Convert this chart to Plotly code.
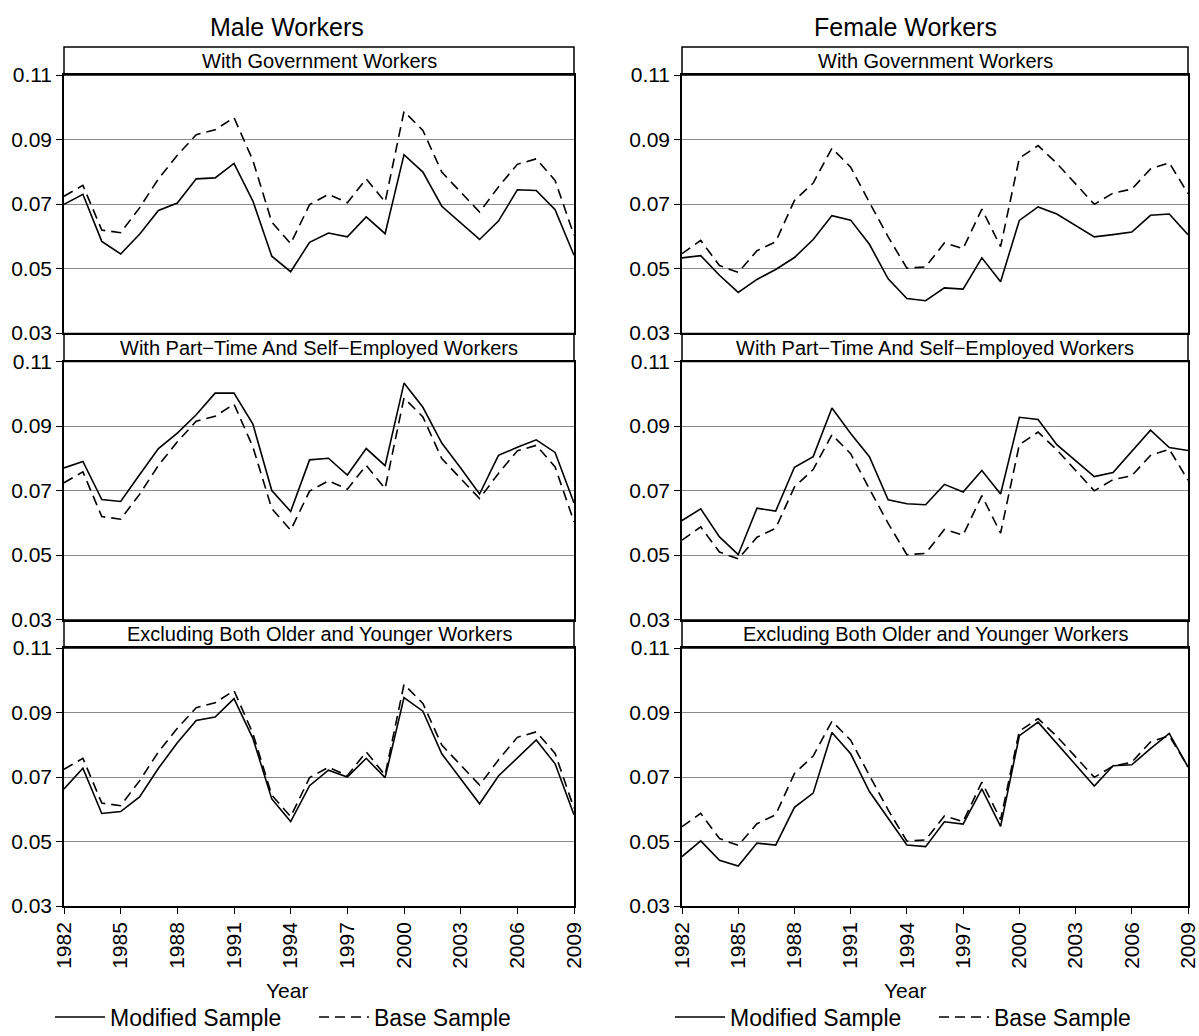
import plotly.graph_objects as go

# Survey years
years = list(range(1982, 2010))

# Base sample (same reference series in every panel of a column)
male_base = [0.0724, 0.0758, 0.0619, 0.0611, 0.0688, 0.0778, 0.0851, 0.0915, 0.0930, 0.0968,
             0.0835, 0.0644, 0.0577, 0.0698, 0.0730, 0.0704, 0.0778, 0.0706, 0.0987, 0.0928,
             0.0799, 0.0737, 0.0675, 0.0753, 0.0823, 0.0840, 0.0773, 0.0603]
female_base = [0.0546, 0.0587, 0.0509, 0.0488, 0.0555, 0.0583, 0.0711, 0.0765, 0.0873, 0.0814,
               0.0705, 0.0598, 0.0501, 0.0505, 0.0579, 0.0562, 0.0684, 0.0568, 0.0842, 0.0881,
               0.0826, 0.0763, 0.0699, 0.0734, 0.0746, 0.0809, 0.0828, 0.0732]

# Modified samples, male workers
male_gov = [0.0699, 0.0730, 0.0584, 0.0545, 0.0606, 0.0680, 0.0703, 0.0778, 0.0781, 0.0826,
            0.0709, 0.0538, 0.0490, 0.0581, 0.0610, 0.0598, 0.0660, 0.0608, 0.0853, 0.0799,
            0.0693, 0.0641, 0.0590, 0.0647, 0.0744, 0.0742, 0.0682, 0.0541]
male_pt = [0.0770, 0.0790, 0.0672, 0.0666, 0.0749, 0.0830, 0.0878, 0.0935, 0.1002, 0.1002,
           0.0906, 0.0700, 0.0635, 0.0795, 0.0800, 0.0748, 0.0830, 0.0777, 0.1033, 0.0958,
           0.0847, 0.0770, 0.0689, 0.0809, 0.0834, 0.0857, 0.0818, 0.0661]
male_ex = [0.0663, 0.0727, 0.0587, 0.0593, 0.0638, 0.0727, 0.0806, 0.0875, 0.0886, 0.0943,
           0.0820, 0.0632, 0.0562, 0.0673, 0.0721, 0.0700, 0.0758, 0.0698, 0.0946, 0.0904,
           0.0772, 0.0696, 0.0617, 0.0703, 0.0760, 0.0815, 0.0741, 0.0583]

# Modified samples, female workers
female_gov = [0.0533, 0.0540, 0.0479, 0.0426, 0.0466, 0.0497, 0.0534, 0.0590, 0.0664, 0.0650,
              0.0575, 0.0468, 0.0407, 0.0400, 0.0440, 0.0436, 0.0533, 0.0459, 0.0649, 0.0691,
              0.0669, 0.0634, 0.0598, 0.0605, 0.0613, 0.0665, 0.0669, 0.0605]
female_pt = [0.0607, 0.0643, 0.0556, 0.0501, 0.0645, 0.0636, 0.0772, 0.0805, 0.0956, 0.0877,
             0.0805, 0.0671, 0.0659, 0.0656, 0.0719, 0.0695, 0.0762, 0.0689, 0.0927, 0.0920,
             0.0842, 0.0792, 0.0743, 0.0756, 0.0821, 0.0887, 0.0833, 0.0824]
female_ex = [0.0453, 0.0502, 0.0442, 0.0424, 0.0495, 0.0489, 0.0606, 0.0650, 0.0838, 0.0772,
             0.0655, 0.0570, 0.0489, 0.0484, 0.0561, 0.0554, 0.0663, 0.0547, 0.0828, 0.0870,
             0.0805, 0.0738, 0.0672, 0.0735, 0.0738, 0.0788, 0.0835, 0.0731]

column_titles = ["Male Workers", "Female Workers"]
panel_titles = ["With Government Workers",
                "With Part\u2212Time And Self\u2212Employed Workers",
                "Excluding Both Older and Younger Workers"]
modified = [[male_gov, female_gov], [male_pt, female_pt], [male_ex, female_ex]]
base = [male_base, female_base]

y_ticks = [0.03, 0.05, 0.07, 0.09, 0.11]
y_tick_text = ["0.03", "0.05", "0.07", "0.09", "0.11"]
x_ticks = list(range(1982, 2010, 3))

W, H = 1199, 1036
FONT = "Liberation Sans, Arial, Helvetica, sans-serif"

# pixel layout of the panel grid
col_x = [(64, 574), (682, 1188)]
col_center = [287, 905]
legend_left = [50, 670]
row_top0, row_h, strip_h, row_step = 75, 258, 28, 286.5


def px_x(v):
    return v / W


def px_y(v):
    return 1 - v / H


fig = go.Figure()
layout = dict(
    width=W, height=H,
    margin=dict(l=0, r=0, t=0, b=0, autoexpand=False),
    paper_bgcolor="white", plot_bgcolor="white",
    font=dict(family=FONT, color="black"),
    showlegend=True,
)
shapes, annotations = [], []
legend_names = ["legend", "legend2"]

for r in range(3):
    top = row_top0 + r * row_step
    bottom = top + row_h
    for c in range(2):
        idx = r * 2 + c + 1
        sfx = "" if idx == 1 else str(idx)
        x0, x1 = col_x[c]
        fig.add_trace(go.Scatter(
            x=years, y=modified[r][c], mode="lines", name="Modified Sample",
            line=dict(color="black", width=1.6),
            xaxis="x" + sfx, yaxis="y" + sfx,
            showlegend=(r == 0), legend=legend_names[c], cliponaxis=True,
        ))
        fig.add_trace(go.Scatter(
            x=years, y=base[c], mode="lines", name="Base Sample",
            line=dict(color="black", width=1.6, dash="10px,6px"),
            xaxis="x" + sfx, yaxis="y" + sfx,
            showlegend=(r == 0), legend=legend_names[c], cliponaxis=True,
        ))
        bottom_row = (r == 2)
        layout["xaxis" + sfx] = dict(
            domain=[px_x(x0), px_x(x1)], anchor="y" + sfx,
            range=[1982, 2009], showgrid=False, zeroline=False,
            showline=True, mirror=True, linecolor="black", linewidth=1.5,
            tickmode="array", tickvals=x_ticks,
            ticktext=[str(v) for v in x_ticks],
            showticklabels=bottom_row, ticks="outside" if bottom_row else "",
            ticklen=6, tickwidth=1.2, tickcolor="black", tickangle=-90,
            tickfont=dict(size=21, family=FONT, color="black"),
            ticklabeloverflow="allow", automargin=False,
        )
        layout["yaxis" + sfx] = dict(
            domain=[px_y(bottom), px_y(top)], anchor="x" + sfx,
            range=[0.03, 0.11], zeroline=False,
            showgrid=True, gridcolor="#8a8a8a", gridwidth=1,
            showline=True, mirror=True, linecolor="black", linewidth=1.5,
            tickmode="array", tickvals=y_ticks, ticktext=y_tick_text,
            ticks="outside", ticklen=6, tickwidth=1.2, tickcolor="black",
            tickfont=dict(size=21, family=FONT, color="black"),
            ticklabeloverflow="allow", automargin=False,
        )
        # panel header strip
        shapes.append(dict(
            type="rect", xref="paper", yref="paper",
            x0=px_x(x0), x1=px_x(x1), y0=px_y(top), y1=px_y(top - strip_h),
            line=dict(color="black", width=1.5), fillcolor="white", layer="below",
        ))
        annotations.append(dict(
            text=panel_titles[r], xref="paper", yref="paper",
            x=px_x((x0 + x1) / 2), y=px_y(top - strip_h / 2),
            xanchor="center", yanchor="middle", showarrow=False,
            font=dict(size=20, family=FONT, color="black"),
        ))

for c in range(2):
    annotations.append(dict(
        text=column_titles[c], xref="paper", yref="paper",
        x=px_x(col_center[c]), y=px_y(27), xanchor="center", yanchor="middle",
        showarrow=False, font=dict(size=25, family=FONT, color="black"),
    ))
    annotations.append(dict(
        text="Year", xref="paper", yref="paper",
        x=px_x(col_center[c]), y=px_y(990), xanchor="center", yanchor="middle",
        showarrow=False, font=dict(size=21, family=FONT, color="black"),
    ))
    layout[legend_names[c]] = dict(
        orientation="h", x=px_x(legend_left[c]), xanchor="left",
        y=px_y(1017), yanchor="middle", bgcolor="rgba(0,0,0,0)",
        font=dict(size=23, family=FONT, color="black"),
        itemwidth=50, tracegroupgap=0,
        entrywidth=199, entrywidthmode="pixels",
    )

layout["shapes"] = shapes
layout["annotations"] = annotations
fig.update_layout(**layout)
fig.write_html(
    "out.html",
    post_script="document.body.style.margin='0';document.body.style.overflow='hidden';",
)
